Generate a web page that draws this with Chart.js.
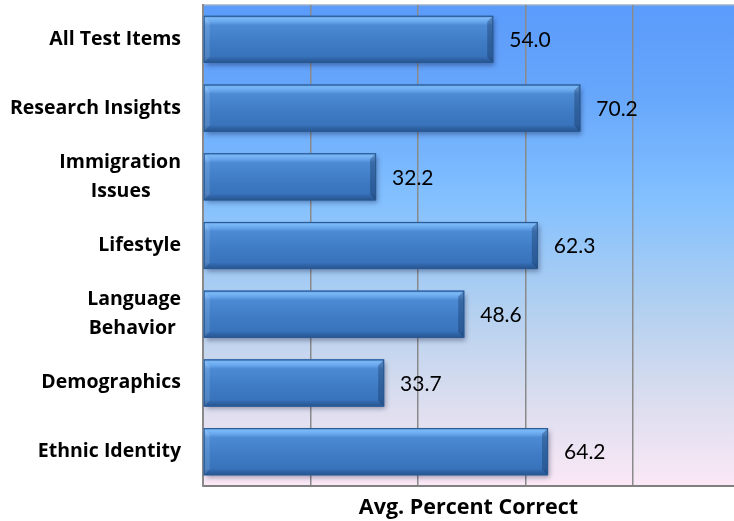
<!DOCTYPE html>
<html>
<head>
<meta charset="utf-8">
<script src="https://cdn.jsdelivr.net/npm/chart.js@4/dist/chart.umd.min.js"></script>
<style>
html,body{margin:0;padding:0;background:#fff;}
#wrap{width:734px;height:521px;position:relative;}
</style>
</head>
<body>
<div id="wrap"><canvas id="c" width="734" height="521"></canvas></div>
<script>
const categories = [
  'All Test Items',
  'Research Insights',
  ['Immigration', 'Issues      '],
  'Lifestyle',
  ['Language', 'Behavior '],
  'Demographics',
  'Ethnic Identity'
];
const avgPercentCorrect = [54.0, 70.2, 32.2, 62.3, 48.6, 33.7, 64.2];
const axisTitle = 'Avg. Percent Correct';
const xMin = 0;
const xMax = 98.8;
const xStep = 20;

const bgPlugin = {
  id: 'bg',
  beforeDraw(chart) {
    const {ctx, chartArea: a} = chart;
    ctx.save();
    const g = ctx.createLinearGradient(0, a.top, 0, a.bottom);
    g.addColorStop(0, '#5b9bfb');
    g.addColorStop(0.18, '#66a6fb');
    g.addColorStop(0.40, '#82c0ff');
    g.addColorStop(0.62, '#b0cff0');
    g.addColorStop(0.80, '#d6dcee');
    g.addColorStop(1, '#fbe8f6');
    ctx.fillStyle = g;
    ctx.fillRect(a.left, a.top, a.right - a.left, a.bottom - a.top);
    ctx.strokeStyle = '#9fb0c8';
    ctx.lineWidth = 1.5;
    ctx.beginPath();
    ctx.moveTo(a.left, a.top);
    ctx.lineTo(a.right, a.top);
    ctx.stroke();
    ctx.restore();
  }
};

const bevelPlugin = {
  id: 'bevel',
  beforeDatasetsDraw(chart) {
    const ctx = chart.ctx;
    const meta = chart.getDatasetMeta(0);
    ctx.save();
    meta.data.forEach(el => {
      const p = el.getProps(['x', 'y', 'base', 'height'], true);
      const yT = p.y - p.height / 2;
      ctx.shadowColor = 'rgba(0,0,40,0.35)';
      ctx.shadowBlur = 5;
      ctx.shadowOffsetX = 2;
      ctx.shadowOffsetY = 3;
      ctx.fillStyle = '#3a76bf';
      ctx.fillRect(p.base, yT, p.x - p.base, p.height);
    });
    ctx.restore();
  },
  afterDatasetsDraw(chart) {
    const ctx = chart.ctx;
    const meta = chart.getDatasetMeta(0);
    ctx.save();
    meta.data.forEach(el => {
      const p = el.getProps(['x', 'y', 'base', 'height'], true);
      const x0 = p.base, x1 = p.x;
      const yT = p.y - p.height / 2, yB = p.y + p.height / 2;
      const h = yB - yT;
      const g = ctx.createLinearGradient(0, yT, 0, yB);
      g.addColorStop(0, '#4f8ed6');
      g.addColorStop(0.05, '#7ab8f6');
      g.addColorStop(0.12, '#6aa8ee');
      g.addColorStop(0.2, '#4c8bd4');
      g.addColorStop(0.55, '#3f7cc5');
      g.addColorStop(0.86, '#3873bb');
      g.addColorStop(0.92, '#2f63a6');
      g.addColorStop(1, '#27568f');
      ctx.fillStyle = g;
      ctx.fillRect(x0, yT, x1 - x0, h);
      const b = 6;
      ctx.fillStyle = 'rgba(20,45,85,0.35)';
      ctx.beginPath();
      ctx.moveTo(x1, yT); ctx.lineTo(x1, yB); ctx.lineTo(x1 - b, yB - b); ctx.lineTo(x1 - b, yT + b); ctx.closePath();
      ctx.fill();
      ctx.fillStyle = 'rgba(255,255,255,0.12)';
      ctx.beginPath();
      ctx.moveTo(x0, yT); ctx.lineTo(x0 + b, yT + b); ctx.lineTo(x0 + b, yB - b); ctx.lineTo(x0, yB); ctx.closePath();
      ctx.fill();
      ctx.strokeStyle = '#2a5890';
      ctx.lineWidth = 1;
      ctx.strokeRect(x0 + 0.5, yT + 0.5, x1 - x0 - 1, h - 1);
    });
    ctx.restore();
  }
};

const valueLabelPlugin = {
  id: 'valueLabels',
  afterDatasetsDraw(chart) {
    const ctx = chart.ctx;
    const ds = chart.data.datasets[0];
    const meta = chart.getDatasetMeta(0);
    ctx.save();
    ctx.font = '21px Lato, "Liberation Sans", sans-serif';
    ctx.fillStyle = '#000';
    ctx.textAlign = 'left';
    ctx.textBaseline = 'middle';
    meta.data.forEach((el, i) => {
      const p = el.getProps(['x', 'y'], true);
      ctx.fillText(ds.data[i].toFixed(1), p.x + 16, p.y + 1);
    });
    ctx.restore();
  }
};

new Chart(document.getElementById('c'), {
  type: 'bar',
  data: {
    labels: categories,
    datasets: [{
      data: avgPercentCorrect,
      backgroundColor: '#3f7cc5',
      borderWidth: 0,
      barPercentage: 0.685,
      categoryPercentage: 1.0
    }]
  },
  options: {
    indexAxis: 'y',
    responsive: false,
    animation: false,
    events: [],
    layout: { padding: { top: 5, right: 0, left: 0, bottom: 0 } },
    plugins: { legend: { display: false }, tooltip: { enabled: false } },
    scales: {
      x: {
        min: xMin, max: xMax,
        ticks: { display: false, stepSize: xStep },
        grid: {
          drawTicks: false,
          color: c => (c.tick && c.tick.value % 20 === 0 && c.tick.value > 0) ? '#8a8a8a' : 'rgba(0,0,0,0)',
          lineWidth: 1.5
        },
        border: { display: true, color: '#808080', width: 2 },
        title: {
          display: true,
          text: axisTitle,
          color: '#000',
          font: { family: '"Open Sans", sans-serif', size: 21.5, weight: 'bold' },
          padding: { top: 6, bottom: 0 }
        },
        afterFit(s) { s.height = 35; s.paddingLeft = 0; s.paddingRight = 0; }
      },
      y: {
        ticks: {
          color: '#000',
          padding: 22,
          font: { family: '"Open Sans", sans-serif', size: 19.5, weight: 'bold', lineHeight: 1.5 }
        },
        grid: { display: false, drawTicks: false },
        border: { display: true, color: '#8a8a8a', width: 2 },
        afterFit(s) { s.width = 203; s.paddingTop = 0; s.paddingBottom = 0; }
      }
    }
  },
  plugins: [bgPlugin, bevelPlugin, valueLabelPlugin]
});
</script>
</body>
</html>
